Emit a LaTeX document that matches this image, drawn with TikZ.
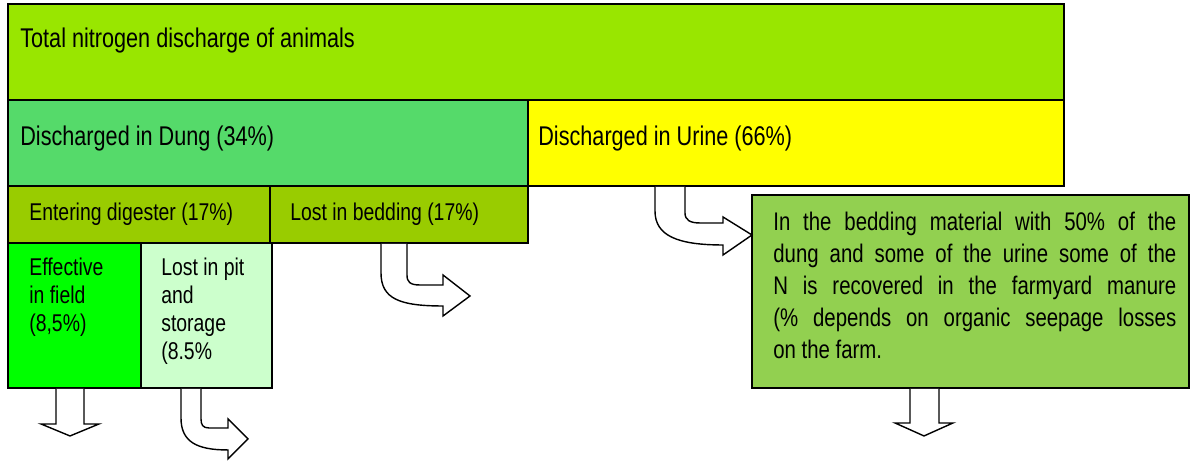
\documentclass[tikz,border=0pt]{standalone}
\usepackage{fontspec}
\setmainfont{Liberation Sans}[FakeStretch=0.8]
\usetikzlibrary{positioning,calc}

\definecolor{totalgreen}{HTML}{99E600}
\definecolor{dunggreen}{HTML}{55DA6A}
\definecolor{urineyellow}{HTML}{FFFF00}
\definecolor{olivegreen}{HTML}{99CC00}
\definecolor{fieldgreen}{HTML}{00FF00}
\definecolor{paleGreen}{HTML}{CCFFCC}
\definecolor{manuregreen}{HTML}{92D050}

\begin{document}
\begin{tikzpicture}[
            x=0.02cm, y=-0.02cm,
            box/.style={
                rectangle,
                draw=black,
                line width=1.1pt,
                inner sep=0pt,
                outer sep=0pt,
                anchor=north west
            },
            bigtext/.style={
                inner sep=0pt,
                anchor=base west,
                font=\fontsize{15.4}{18}\selectfont
            },
            smalltext/.style={
                inner sep=0pt,
                anchor=base west,
                align=flush left,
                font=\fontsize{13.8}{15.9}\selectfont
            },
            notetext/.style={
                inner sep=0pt,
                anchor=base west,
                text width=8.06cm,
                align=justify,
                font=\fontsize{14.5}{18.1}\selectfont
            },
            blockarrow/.style={draw=black, fill=white, line width=0.8pt}
        ]
        \useasboundingbox (0,0) rectangle (1191,462);

        % Boxes
        \node[box, fill=totalgreen, minimum width=21.12cm, minimum height=1.92cm] (total) at (8,4) {};
        \node[box, fill=dunggreen, minimum width=10.4cm, minimum height=1.72cm] (dung) at (8,100) {};
        \node[box, fill=urineyellow, minimum width=10.72cm, minimum height=1.72cm] (urine) at (528,100) {};
        \node[box, fill=olivegreen, minimum width=5.24cm, minimum height=1.14cm] (digester) at (8,186) {};
        \node[box, fill=olivegreen, minimum width=5.16cm, minimum height=1.14cm] (bedding) at (270,186) {};
        \node[box, fill=fieldgreen, minimum width=2.66cm, minimum height=2.9cm] (field) at (8,243) {};
        \node[box, fill=paleGreen, minimum width=2.62cm, minimum height=2.9cm] (pit) at (141,243) {};
        \node[box, fill=manuregreen, minimum width=8.74cm, minimum height=3.86cm] (manure) at (752,195) {};

        % Block arrows
        \draw[blockarrow, shift={(bedding.south west)}]
            (111,1) -- (111,30) .. controls (111,56) and (130,63) .. (173,63)
            -- (173,73) -- (200,53) -- (173,32) -- (173,42)
            -- (150,42) .. controls (140,42) and (137,39) .. (137,32) -- (137,1);
        \draw[blockarrow, shift={(pit.south west)}]
            (40,1) -- (40,30) .. controls (40,54) and (56,62) .. (87,62)
            -- (87,71) -- (107,51) -- (87,31) -- (87,40)
            -- (68,40) .. controls (62,40) and (60,37) .. (60,31) -- (60,1);
        \draw[blockarrow, shift={(urine.south west)}]
            (127,1) -- (127,25) .. controls (127,50) and (150,59) .. (195,59)
            -- (195,69) -- (224,49) -- (195,31) -- (195,37)
            -- (172,37) .. controls (162,37) and (157,34) .. (157,27) -- (157,1);
        \draw[blockarrow, shift={(field.south west)}]
            (48,1) -- (48,36) -- (33,36) -- (62,48) -- (91,36) -- (76,36) -- (76,1);
        \draw[blockarrow, shift={(manure.south west)}]
            (158,1) -- (158,35) -- (143,35) -- (172,48) -- (201,35) -- (187,35) -- (187,1);

        % Texts
        \node[bigtext] (totaltxt) at (20,48) {Total nitrogen discharge of animals};
        \node[bigtext] (dungtxt) at (20,146) {Discharged in Dung (34\%)};
        \node[bigtext] (urinetxt) at (538,146) {Discharged in Urine (66\%)};
        \node[smalltext] (digestertxt) at (29,221) {Entering digester (17\%)};
        \node[smalltext] (beddingtxt) at (290,221) {Lost in bedding (17\%)};
        \node[smalltext, text width=2.2cm] (fieldtxt) at (29,276) {Effective\\in field\\(8,5\%)};
        \node[smalltext, text width=2.2cm] (pittxt) at (161,276) {Lost in pit\\and\\storage\\(8.5\%};
        \node[notetext] (manuretxt) at (773,231) {In the bedding material with 50\% of the\linebreak
            dung and some of the urine some of the\linebreak
            N is recovered in the farmyard manure\linebreak
            (\% depends on organic seepage losses\linebreak
            on the farm.};

\end{tikzpicture}
\end{document}
